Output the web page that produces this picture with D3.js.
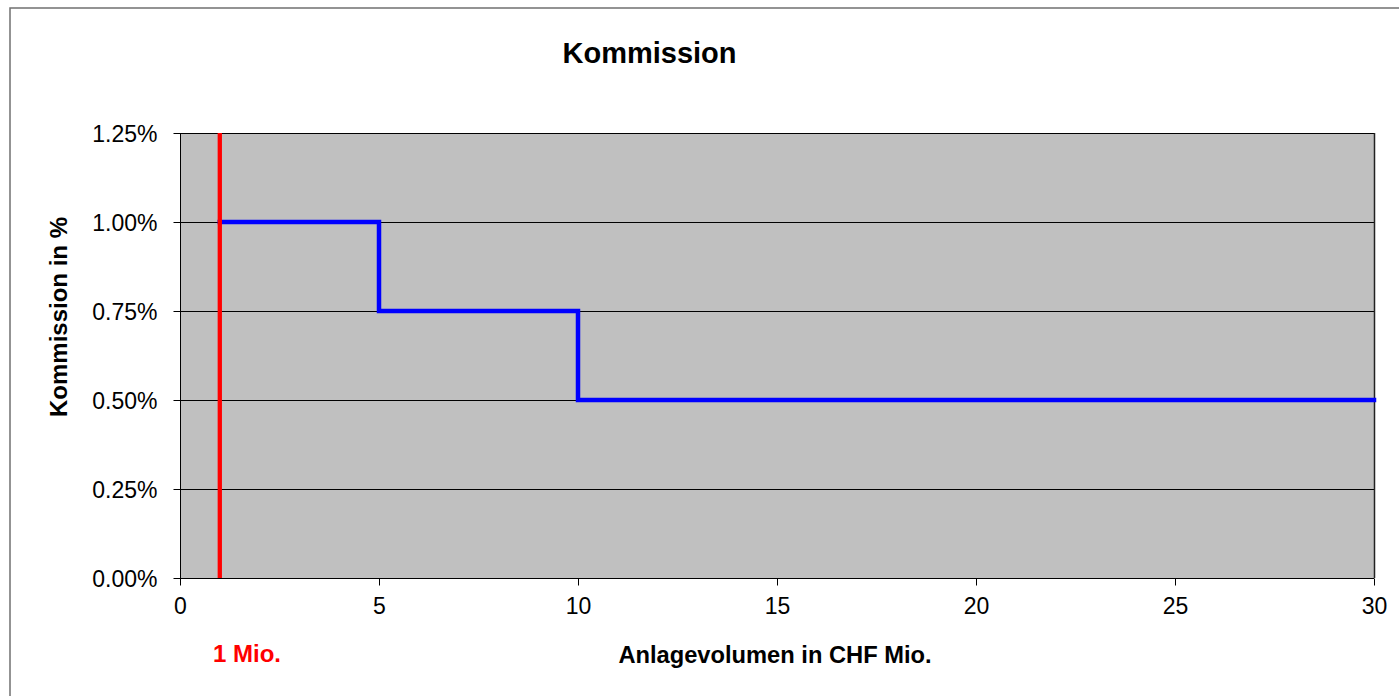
<!DOCTYPE html>
<html>
<head>
<meta charset="utf-8">
<script src="https://cdn.jsdelivr.net/npm/d3@7"></script>
<style>
  html, body { margin: 0; padding: 0; background: #fff; }
  svg { display: block; font-family: Arial, "Liberation Sans", sans-serif; }
</style>
</head>
<body>
<svg id="chart" width="1399" height="696"></svg>
<script>
// Data
const stepVolumes = [1, 5, 10, 30];          // CHF Mio.
const stepRates = [0.01, 0.0075, 0.005, 0.005]; // commission
const markerVolume = [1];
const markerLabel = ["1 Mio."];
const xTicks = [0, 5, 10, 15, 20, 25, 30];
const yTicks = [0, 0.0025, 0.005, 0.0075, 0.01, 0.0125];
const titleText = "Kommission";
const xTitle = "Anlagevolumen in CHF Mio.";
const yTitle = "Kommission in %";

const svg = d3.select("#chart");
const W = 1399, H = 696;
const plot = { left: 180, top: 133, right: 1374, bottom: 578 };

// outer chart border (cut off on right/bottom)
svg.append("rect").attr("x", 10).attr("y", 8).attr("width", W + 20).attr("height", H + 20)
  .attr("fill", "#fff").attr("stroke", "#707070").attr("stroke-width", 1.5);

const x = d3.scaleLinear().domain([0, 30]).range([plot.left, plot.right]);
const y = d3.scaleLinear().domain([0, 0.0125]).range([plot.bottom, plot.top]);

// plot background
svg.append("rect").attr("x", plot.left).attr("y", plot.top)
  .attr("width", plot.right - plot.left).attr("height", plot.bottom - plot.top)
  .attr("fill", "#C0C0C0");

// gridlines
svg.append("g").selectAll("line").data(yTicks.filter(d => d > 0)).join("line")
  .attr("x1", plot.left).attr("x2", plot.right)
  .attr("y1", d => Math.round(y(d)) + 0.5).attr("y2", d => Math.round(y(d)) + 0.5)
  .attr("stroke", "#000").attr("stroke-width", 1);

// right border of plot
svg.append("line").attr("x1", plot.right + 0.5).attr("x2", plot.right + 0.5)
  .attr("y1", plot.top).attr("y2", plot.bottom).attr("stroke", "#222").attr("stroke-width", 1.5);

// axes
const yAxis = d3.axisLeft(y).tickValues(yTicks).tickSize(7).tickPadding(16)
  .tickFormat(d3.format(".2%"));
const gy = svg.append("g").attr("transform", `translate(${plot.left + 0.5},0)`).call(yAxis);
gy.select(".domain").attr("stroke", "#000").attr("d", `M0,${plot.top}V${plot.bottom}`);
gy.selectAll(".tick line").attr("stroke", "#000");
gy.selectAll(".tick text").attr("font-size", 23).attr("fill", "#000")
  .attr("font-family", "Arial, 'Liberation Sans', sans-serif").attr("dy", "0.36em");

const xAxis = d3.axisBottom(x).tickValues(xTicks).tickSize(7).tickPadding(12).tickFormat(d3.format("d"));
const gx = svg.append("g").attr("transform", `translate(0,${plot.bottom + 0.5})`).call(xAxis);
gx.select(".domain").attr("stroke", "#000").attr("d", `M${plot.left},0H${plot.right}`);
gx.selectAll(".tick line").attr("stroke", "#000");
gx.selectAll(".tick text").attr("font-size", 23).attr("fill", "#000")
  .attr("font-family", "Arial, 'Liberation Sans', sans-serif");

// step line
const line = d3.line().x((d, i) => x(stepVolumes[i])).y((d, i) => y(stepRates[i])).curve(d3.curveStepAfter);
svg.append("path").datum(stepRates).attr("d", line)
  .attr("fill", "none").attr("stroke", "#0000FF").attr("stroke-width", 4.5)
  .attr("stroke-linejoin", "miter").attr("stroke-linecap", "square");

// red marker line
svg.append("g").selectAll("line").data(markerVolume).join("line")
  .attr("x1", d => x(d)).attr("x2", d => x(d))
  .attr("y1", y(0.0125)).attr("y2", y(0))
  .attr("stroke", "#FF0000").attr("stroke-width", 4.3);

svg.append("g").selectAll("text").data(markerLabel).join("text")
  .attr("x", 247).attr("y", 662).attr("text-anchor", "middle")
  .attr("font-size", 24).attr("font-weight", "bold").attr("fill", "#FF0000")
  .text(d => d);

// titles
svg.append("text").attr("x", 649.5).attr("y", 63).attr("text-anchor", "middle")
  .attr("font-size", 29).attr("font-weight", "bold").attr("fill", "#000").text(titleText);

svg.append("text").attr("x", 775).attr("y", 663).attr("text-anchor", "middle")
  .attr("font-size", 23.7).attr("font-weight", "bold").attr("fill", "#000").text(xTitle);

svg.append("text").attr("transform", "translate(67,317) rotate(-90)").attr("text-anchor", "middle")
  .attr("font-size", 24).attr("font-weight", "bold").attr("fill", "#000").text(yTitle);
</script>
</body>
</html>
